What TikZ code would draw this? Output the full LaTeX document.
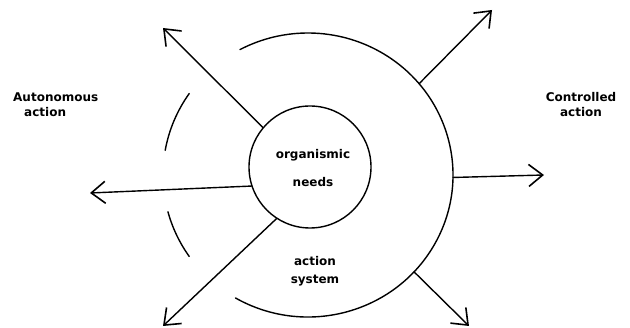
\documentclass[tikz,border=0pt]{standalone}
\usepackage{fontspec}
\setmainfont{DejaVu Sans}
\usetikzlibrary{arrows.meta}
\tikzset{
  line/.style={line width=1.4pt, line cap=round},
  arr/.style={line, -{Straight Barb[length=14pt,width=22pt,line width=1.6pt]}},
  lbl/.style={font=\fontsize{12}{15}\selectfont\bfseries, inner sep=0pt, align=center},
}
\begin{document}
\begin{tikzpicture}[x=1pt,y=-1pt]
\useasboundingbox (0,0) rectangle (630,328);
% inner circle
\node[circle, draw, line width=1.4pt, minimum size=122pt, inner sep=0pt] (inner) at (310,167) {};
% outer circle centre and arcs
\coordinate (oc) at (308,175);
\draw[line] ([shift={(oc)}]-120:145pt and 142pt) arc[start angle=-120, end angle=118, x radius=145pt, y radius=142pt];
\draw[line] ([shift={(oc)}]145:145pt and 142pt) arc[start angle=145, end angle=170, x radius=145pt, y radius=142pt];
\draw[line] ([shift={(oc)}]195:145pt and 142pt) arc[start angle=195, end angle=215, x radius=145pt, y radius=142pt];
% anchors on outer circle
\coordinate (o1) at ([shift={(oc)}]40:145pt and 142pt);
\coordinate (o2) at ([shift={(oc)}]-1:145pt and 142pt);
\coordinate (o3) at ([shift={(oc)}]-43:145pt and 142pt);
% arrow tips
\coordinate (t1) at (163,28);
\coordinate (t2) at (90,193);
\coordinate (t3) at (163,326);
\coordinate (t4) at (492,10);
\coordinate (t5) at (544,175);
\coordinate (t6) at (469,326);
% arrows
\draw[arr] (inner.140) -- (t1);
\draw[arr] (inner.198) -- (t2);
\draw[arr] (inner.237) -- (t3);
\draw[arr] (o1) -- (t4);
\draw[arr] (o2) -- (t5);
\draw[arr] (o3) -- (t6);
% labels
\node[lbl, align=left, anchor=west] (auto) at (13,105) {Autonomous\\\hspace*{11pt}action};
\node[lbl] (ctrl) at (581,105) {Controlled\\action};
\node[lbl] (org) at (313,155) {organismic};
\node[lbl] (needs) at (313,182) {needs};
\node[lbl, font=\fontsize{12}{18}\selectfont\bfseries] (act) at (315,271) {action\\system};
\end{tikzpicture}
\end{document}
